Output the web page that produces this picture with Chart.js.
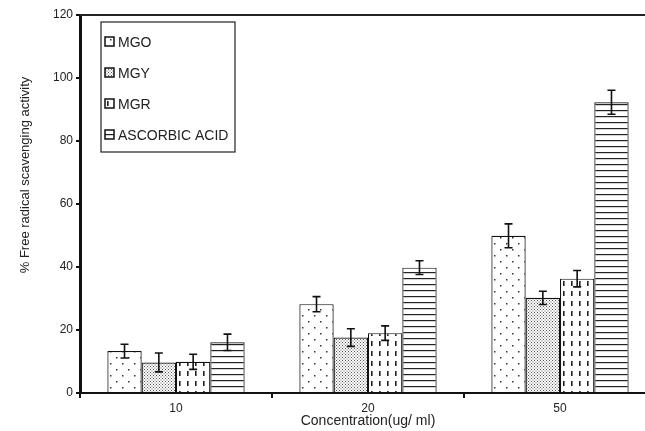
<!DOCTYPE html>
<html>
<head>
<meta charset="utf-8">
<script src="https://cdn.jsdelivr.net/npm/chart.js@4/dist/chart.umd.min.js"></script>
<style>
  html, body { margin: 0; padding: 0; background: #fff; overflow: hidden; }
  #wrap { width: 656px; height: 431px; }
</style>
</head>
<body>
<div id="wrap"><canvas id="chart" width="656" height="431"></canvas></div>
<script>
const categories = ['10', '20', '50'];
const seriesNames = ['MGO', 'MGY', 'MGR', 'ASCORBIC ACID'];
const mgo = [13.3, 28.2, 49.9];
const mgy = [9.7, 17.6, 30.2];
const mgr = [9.9, 19.0, 36.3];
const ascorbic = [16.1, 39.8, 92.3];
const mgoErr = [2.2, 2.4, 3.8];
const mgyErr = [3.0, 2.8, 2.1];
const mgrErr = [2.4, 2.3, 2.6];
const ascorbicErr = [2.6, 2.2, 3.8];
const yTicks = [0, 20, 40, 60, 80, 100, 120];
const yTitle = '% Free radical scavenging activity';

const FONT = "'Liberation Sans', Arial, sans-serif";
const INK = '#222';

// fill patterns, one per series
function makePattern(w, h, draw) {
  const c = document.createElement('canvas');
  c.width = w; c.height = h;
  const g = c.getContext('2d');
  g.fillStyle = '#fff';
  g.fillRect(0, 0, w, h);
  draw(g);
  return g.createPattern(c, 'repeat');
}
const ctx = document.getElementById('chart').getContext('2d');
const dotPat = makePattern(12, 12, g => {
  g.fillStyle = '#333';
  g.fillRect(2, 3, 1.5, 1.5);
  g.fillRect(8, 9, 1.5, 1.5);
});
const stipplePat = makePattern(3, 3, g => {
  g.fillStyle = '#555';
  g.fillRect(0, 0, 1, 1);
  g.fillRect(1.5, 1.5, 1, 1);
});
const dashPat = makePattern(8, 10, g => {
  g.fillStyle = '#222';
  g.fillRect(3, 1, 1.6, 5);
});
const hlinePat = makePattern(4, 6, g => {
  g.fillStyle = '#222';
  g.fillRect(0, 2, 4, 1.2);
});
const patterns = [dotPat, stipplePat, dashPat, hlinePat];
const values = [mgo, mgy, mgr, ascorbic];
const errors = [mgoErr, mgyErr, mgrErr, ascorbicErr];

const errorBars = {
  id: 'errorBars',
  afterDatasetsDraw(chart) {
    const c = chart.ctx;
    const y = chart.scales.y;
    c.save();
    c.strokeStyle = '#111';
    c.lineWidth = 1.6;
    chart.data.datasets.forEach((ds, di) => {
      const meta = chart.getDatasetMeta(di);
      meta.data.forEach((bar, i) => {
        const v = ds.data[i], e = ds.err[i];
        const top = y.getPixelForValue(v + e);
        const bot = y.getPixelForValue(v - e);
        c.beginPath();
        c.moveTo(bar.x, top); c.lineTo(bar.x, bot);
        c.moveTo(bar.x - 4, top); c.lineTo(bar.x + 4, top);
        c.moveTo(bar.x - 4, bot); c.lineTo(bar.x + 4, bot);
        c.stroke();
      });
    });
    c.restore();
  }
};

const boxLegend = {
  id: 'boxLegend',
  afterDraw(chart) {
    const c = chart.ctx;
    const a = chart.chartArea;
    c.save();
    // top border of the plot
    c.strokeStyle = '#222';
    c.lineWidth = 2;
    c.beginPath();
    c.moveTo(a.left, a.top); c.lineTo(chart.width, a.top);
    c.stroke();
    // y axis title, sitting a little above centre as in the original
    c.fillStyle = INK;
    c.font = '13px ' + FONT;
    c.textAlign = 'center';
    c.textBaseline = 'middle';
    c.translate(a.left - 55, a.top + 160);
    c.rotate(-Math.PI / 2);
    c.fillText(yTitle, 0, 0);
    c.setTransform(1, 0, 0, 1, 0, 0);
    c.textAlign = 'left';
    // legend box inside the plot
    const bx = a.left + 21, by = a.top + 7, bw = 134, bh = 130;
    c.strokeStyle = '#222';
    c.lineWidth = 1.2;
    c.strokeRect(bx, by, bw, bh);
    c.font = '14px ' + FONT;
    chart.data.datasets.forEach((ds, i) => {
      const cy = by + 20 + i * 31;
      c.fillStyle = ds.backgroundColor;
      c.fillRect(bx + 4, cy - 5, 9, 9);
      c.lineWidth = 1.5;
      c.strokeStyle = '#111';
      c.strokeRect(bx + 4, cy - 5, 9, 9);
      c.fillStyle = INK;
      c.fillText(ds.label, bx + 17, cy + 1);
    });
    c.restore();
  }
};

new Chart(ctx, {
  type: 'bar',
  data: {
    labels: categories,
    datasets: seriesNames.map((name, i) => ({
      label: name,
      data: values[i],
      err: errors[i],
      backgroundColor: patterns[i],
      borderColor: '#111',
      borderWidth: 1.2,
      borderSkipped: 'bottom',
      categoryPercentage: 0.715,
      barPercentage: 1.0
    }))
  },
  options: {
    responsive: false,
    animation: false,
    layout: { padding: { top: 15, right: 0, left: 0, bottom: 0 } },
    plugins: {
      legend: { display: false },
      tooltip: { enabled: false }
    },
    scales: {
      x: {
        grid: { display: true, drawOnChartArea: false, offset: true, tickLength: 5, color: '#111', lineWidth: 2 },
        border: { display: true, color: '#111', width: 2 },
        ticks: { color: INK, font: { family: FONT, size: 12 }, padding: 3 },
        title: { display: true, text: 'Concentration(ug/ ml)', color: INK, font: { family: FONT, size: 14 }, padding: { top: 0, bottom: 1 } },
        afterFit(s) { s.height = 38; }
      },
      y: {
        min: 0,
        max: 120,
        afterBuildTicks(s) { s.ticks = yTicks.map(v => ({ value: v })); },
        grid: { display: true, drawOnChartArea: false, tickLength: 4, color: '#111', lineWidth: 2 },
        border: { display: true, color: '#111', width: 3 },
        ticks: { color: INK, font: { family: FONT, size: 12 }, padding: 3 },
        afterFit(s) { s.width = 80; }
      }
    }
  },
  plugins: [errorBars, boxLegend]
});
</script>
</body>
</html>
